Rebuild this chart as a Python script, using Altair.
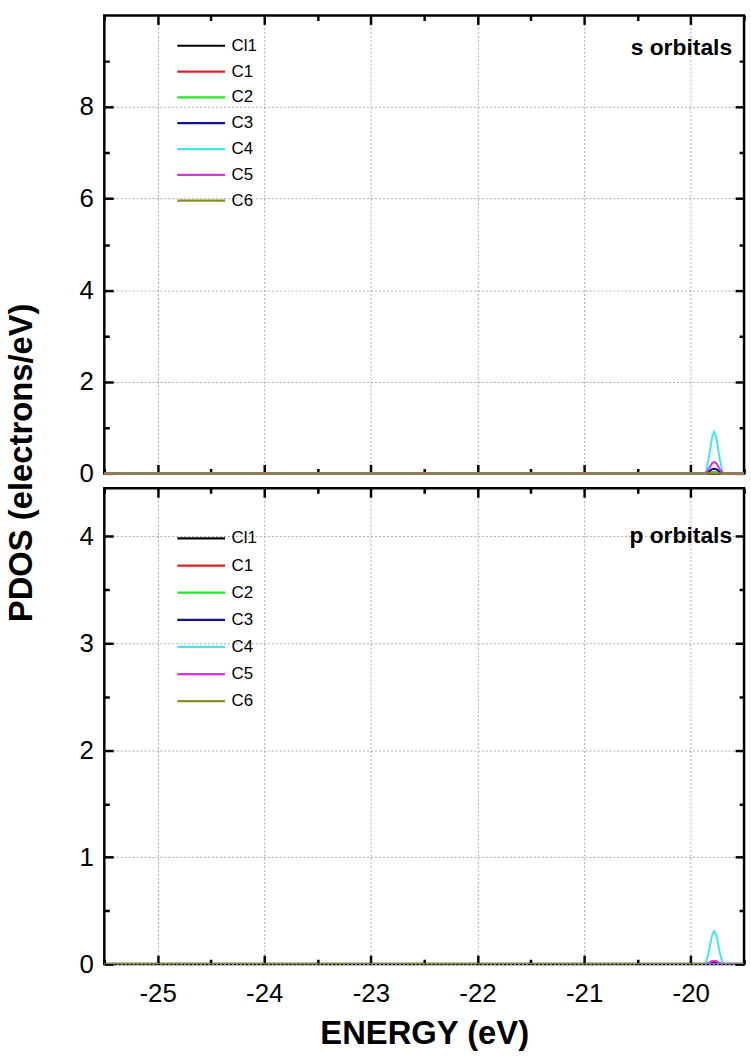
import altair as alt
import pandas as pd

FONT = "Liberation Sans"

series = ["Cl1", "C1", "C2", "C3", "C4", "C5", "C6"]
colors = ["#000000", "#e02020", "#30e030", "#10109a", "#40e8e8", "#e030e0", "#8a8a2a"]

energy = [-25.5, -19.86, -19.83, -19.80, -19.78, -19.76, -19.73, -19.70, -19.5]

# s orbitals PDOS
s_Cl1 = [0, 0, 0, 0, 0, 0, 0, 0, 0]
s_C1 = [0, 0, 0.01, 0.02, 0.02, 0.02, 0.01, 0, 0]
s_C2 = [0, 0, 0.01, 0.02, 0.03, 0.02, 0.01, 0, 0]
s_C3 = [0, 0, 0.04, 0.09, 0.10, 0.09, 0.04, 0, 0]
s_C4 = [0, 0, 0.35, 0.78, 0.91, 0.78, 0.35, 0, 0]
s_C5 = [0, 0, 0.10, 0.22, 0.25, 0.22, 0.10, 0, 0]
s_C6 = [0, 0, 0, 0, 0, 0, 0, 0, 0]

# p orbitals PDOS
p_Cl1 = [0, 0, 0, 0, 0, 0, 0, 0, 0]
p_C1 = [0, 0, 0, 0.01, 0.01, 0.01, 0, 0, 0]
p_C2 = [0, 0, 0, 0, 0, 0, 0, 0, 0]
p_C3 = [0, 0, 0, 0.01, 0.01, 0.01, 0, 0, 0]
p_C4 = [0, 0, 0.12, 0.27, 0.31, 0.27, 0.12, 0, 0]
p_C5 = [0, 0, 0.01, 0.03, 0.03, 0.03, 0.01, 0, 0]
p_C6 = [0, 0, 0, 0, 0, 0, 0, 0, 0]

x_ticks = [-25.5, -25, -24.5, -24, -23.5, -23, -22.5, -22, -21.5, -21, -20.5, -20, -19.5]
s_ticks = [0, 1, 2, 3, 4, 5, 6, 7, 8, 9]
p_ticks = [0, 0.5, 1, 1.5, 2, 2.5, 3, 3.5, 4]
panel_titles = ["s orbitals", "p orbitals"]


def frame(cols):
    rows = []
    for name, vals in zip(series, cols):
        for e, v in zip(energy, vals):
            rows.append({"E": e, "P": v, "S": name})
    return pd.DataFrame(rows)


s_df = frame([s_Cl1, s_C1, s_C2, s_C3, s_C4, s_C5, s_C6])
p_df = frame([p_Cl1, p_C1, p_C2, p_C3, p_C4, p_C5, p_C6])

TICK = 9
MINOR_DASH = [0, 4, 5, 40]


def axis(orient, values, minor_test, labels, label_expr=None, title=None,
         grid=False, label_pad=11):
    kw = dict(
        orient=orient,
        values=values,
        offset=-TICK,
        tickSize=TICK,
        tickWidth=2.5,
        tickColor="black",
        tickDash={"condition": {"test": minor_test, "value": MINOR_DASH}, "value": [40, 0]},
        domain=False,
        labels=labels,
        grid=grid,
        title=title,
        minExtent=0,
        maxExtent=300,
    )
    if grid:
        kw.update(
            gridColor="#a8a8a8",
            gridDash=[2, 2],
            gridWidth=1,
            gridOpacity={"condition": {"test": minor_test, "value": 0}, "value": 1},
        )
    if labels:
        kw.update(labelFont=FONT, labelFontSize=26, labelColor="black",
                  labelPadding=label_pad)
        if label_expr:
            kw.update(labelExpr=label_expr)
    if title:
        kw.update(titleFont=FONT, titleFontSize=33, titleFontWeight="bold",
                  titleColor="black", titlePadding=11)
    return alt.Axis(**kw)


x_minor = "abs(datum.value % 1) > 0.01"
x_label = "abs(datum.value % 1) > 0.01 ? '' : '-' + toString(abs(datum.value))"


def panel(df, ymax, yvals, y_minor, y_label, title_text, height, show_x, clip,
          ly, ty, row_pad):
    xscale = alt.Scale(domain=[-25.5, -19.5], nice=False, zero=False)
    yscale = alt.Scale(domain=[0, ymax], nice=False, zero=False)
    base = alt.Chart(df)
    lines = base.mark_line(strokeWidth=2, clip=clip).encode(
        x=alt.X("E:Q", scale=xscale,
                axis=axis("bottom", x_ticks, x_minor, show_x, x_label,
                          "ENERGY (eV)" if show_x else None, grid=True,
                          label_pad=17)),
        y=alt.Y("P:Q", scale=yscale,
                axis=axis("left", yvals, y_minor, True, y_label, None,
                          grid=True, label_pad=11)),
        color=alt.Color(
            "S:N",
            scale=alt.Scale(domain=series, range=colors),
            sort=series,
            legend=alt.Legend(
                title=None, orient="none", legendX=89, legendY=ly,
                symbolType="M-4,0H4", symbolSize=144, symbolStrokeWidth=2.2,
                symbolFillColor="transparent",
                labelFont=FONT, labelFontSize=17, labelColor="black",
                labelOffset=22, rowPadding=row_pad, padding=0,
            ),
        ),
    )
    mirror = base.mark_line(opacity=0).encode(
        x=alt.X("E:Q", scale=xscale, axis=axis("top", x_ticks, x_minor, False)),
        y=alt.Y("P:Q", scale=yscale, axis=axis("right", yvals, y_minor, False)),
    )
    label = alt.Chart(pd.DataFrame({"t": [title_text]})).mark_text(
        align="right", baseline="middle", font=FONT, fontSize=23,
        fontWeight="bold", color="black",
    ).encode(text="t:N", x=alt.value(632), y=alt.value(ty))
    return alt.layer(lines, mirror, label).resolve_axis(
        x="independent", y="independent"
    ).properties(width=644, height=height)


y_lab_s = "datum.value % 2 !== 0 ? '' : toString(datum.value)"
y_lab_p = "datum.value % 1 !== 0 ? '' : toString(datum.value)"

top = panel(s_df, 10, s_ticks, "datum.value % 2 !== 0", y_lab_s,
            panel_titles[0], 461, False, False, 22, 33, 8.0)
bottom = panel(p_df, 4.45, p_ticks, "datum.value % 1 !== 0", y_lab_p,
               panel_titles[1], 479, True, True, 42, 48, 9.3)

chart = alt.vconcat(
    top, bottom, spacing=15, bounds="flush",
    title=alt.TitleParams(
        "PDOS (electrons/eV)", orient="left", anchor="middle",
        font=FONT, fontSize=33, fontWeight="bold", color="black", offset=39,
        dx=70,
    ),
).resolve_scale(color="independent").configure_view(
    stroke="black", strokeWidth=2.5
).properties(
    padding={"left": 6, "top": 9, "right": 1, "bottom": 6},
    background="white",
)

chart.save("out.html", embed_options={"renderer": "svg", "actions": False})
